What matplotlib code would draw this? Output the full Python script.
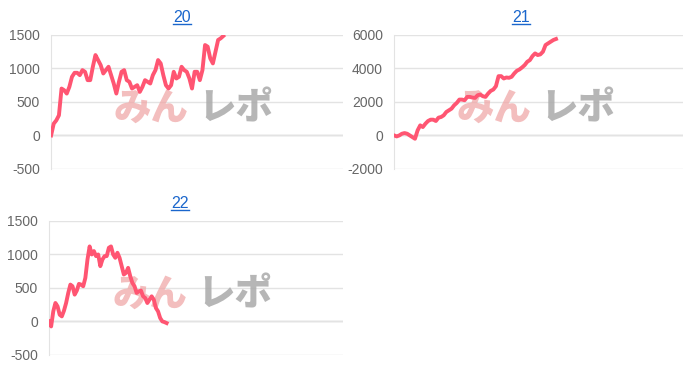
import matplotlib
matplotlib.use('Agg')
import matplotlib.pyplot as plt
from matplotlib.lines import Line2D

plt.rcParams['font.family'] = ['Liberation Sans', 'DejaVu Sans']
plt.rcParams['axes.unicode_minus'] = False

# cumulative difference per machine number
titles = ['20', '21', '22']

vals20 = [0, 175, 225, 300, 700, 675, 625, 725, 875, 935, 935, 900, 975, 950, 825,
          825, 1025, 1200, 1125, 1050, 925, 975, 1025, 900, 775, 625, 800, 950, 975,
          825, 800, 700, 725, 750, 650, 725, 825, 800, 775, 900, 975, 1125, 1075,
          900, 750, 700, 750, 950, 850, 875, 1025, 975, 950, 850, 700, 950, 950,
          825, 975, 1350, 1325, 1150, 1075, 1250, 1425, 1450, 1485]

vals21 = [0, -60, 0, 100, 140, 100, 0, -100, -200, 300, 600, 500, 700, 860, 940,
          940, 860, 1060, 1100, 1200, 1400, 1500, 1600, 1800, 1940, 2140, 2140, 2100,
          2300, 2300, 2260, 2240, 2400, 2440, 2340, 2300, 2500, 2660, 2740, 2940,
          3540, 3540, 3400, 3460, 3440, 3500, 3700, 3860, 3940, 4060, 4200, 4400,
          4500, 4740, 4900, 4800, 4840, 5000, 5400, 5500, 5600, 5700, 5760]

vals22 = [0, -75, 150, 275, 225, 100, 75, 160, 275, 425, 550, 525, 400, 460, 560,
          550, 525, 650, 925, 1120, 1000, 1050, 975, 1000, 825, 925, 975, 975, 1100,
          1120, 1000, 950, 1025, 950, 825, 700, 725, 800, 675, 575, 525, 425, 450,
          460, 375, 350, 275, 325, 375, 325, 200, 150, 50, 0, -10, -25]

# share of the x range the line covers
xfrac = [0.59, 0.56, 0.40]
yticks = [[-500, 0, 500, 1000, 1500],
          [-2000, 0, 2000, 4000, 6000],
          [-500, 0, 500, 1000, 1500]]

fig = plt.figure(figsize=(7, 3.72), dpi=100)
boxes = [[0.073, 0.546, 0.417, 0.36],
         [0.563, 0.546, 0.413, 0.36],
         [0.070, 0.046, 0.420, 0.36]]
title_pos = [(0.26, 0.952), (0.744, 0.952), (0.257, 0.452)]

line_color = '#ff5572'
grid_color = '#e3e3e3'

for i, vals in enumerate([vals20, vals21, vals22]):
    ax = fig.add_axes(boxes[i])
    x = list(range(len(vals)))
    ax.plot(x, vals, color=line_color, lw=2.8, zorder=3)
    ax.set_xlim(0, (len(vals) - 1) / xfrac[i])
    ax.set_ylim(yticks[i][0], yticks[i][-1])
    ax.set_yticks(yticks[i])
    ax.set_xticks([])
    ax.grid(axis='y', color=grid_color, lw=1)
    ax.axhline(0, color='#cccccc', lw=1, zorder=1)
    for s in ['top', 'right', 'bottom']:
        ax.spines[s].set_visible(False)
    ax.spines['left'].set_color(grid_color)
    ax.tick_params(axis='y', length=0, labelsize=10, labelcolor='#666666', pad=8)

    # watermark
    ax.text(0.215, 0.45, 'みん', transform=ax.transAxes, fontsize=27, fontweight='heavy',
            family=['Noto Sans CJK JP'], color='#f0a8a8', alpha=0.75, ha='left', va='center',
            zorder=2)
    ax.text(0.505, 0.45, 'レポ', transform=ax.transAxes, fontsize=27, fontweight='heavy',
            family=['Noto Sans CJK JP'], color='#aaaaaa', alpha=0.85, ha='left', va='center',
            zorder=2)

    fig.text(title_pos[i][0], title_pos[i][1], titles[i], fontsize=11.5,
             color='#1a66cc', ha='center', va='center')

# underline the titles
fig.canvas.draw()
for t in fig.texts:
    bb = t.get_window_extent().transformed(fig.transFigure.inverted())
    y = bb.y0 + 0.004
    fig.add_artist(Line2D([bb.x0, bb.x1], [y, y], color='#1a66cc', lw=1,
                          transform=fig.transFigure))

fig.savefig('out.png', dpi=100)
